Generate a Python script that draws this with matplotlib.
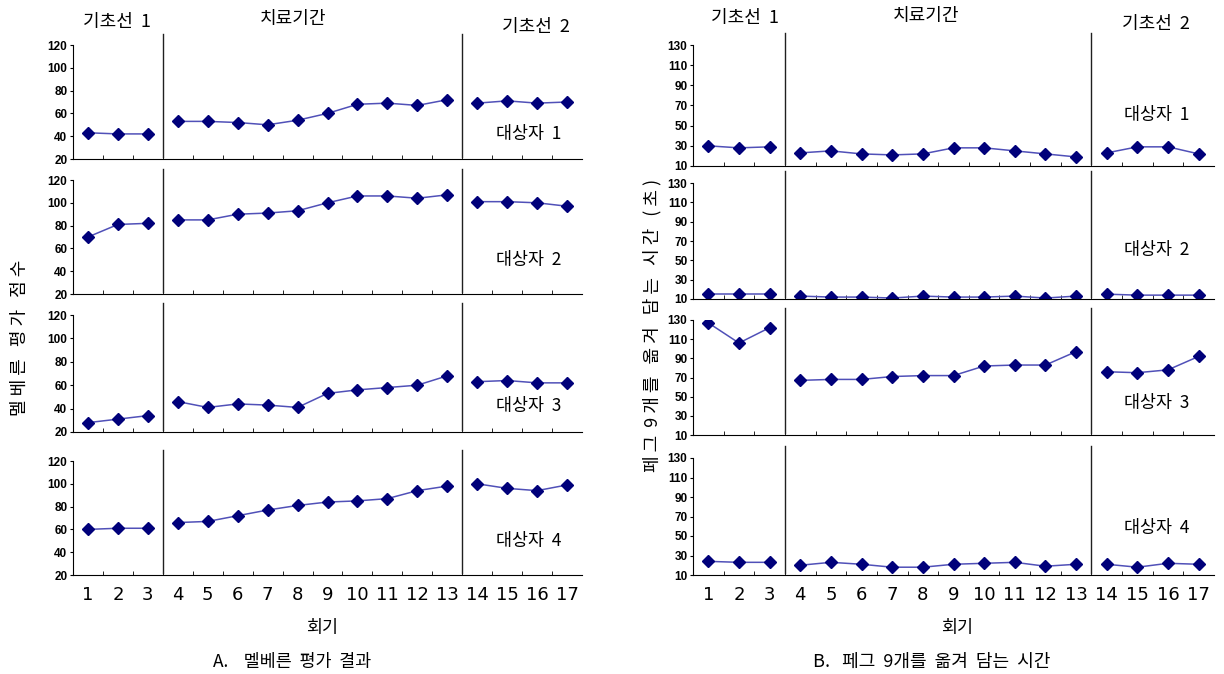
import numpy as np
import matplotlib
matplotlib.use('Agg')
import matplotlib.pyplot as plt
from matplotlib.transforms import blended_transform_factory

plt.rcParams['font.family'] = ['Noto Sans CJK KR', 'DejaVu Sans']

# 회기 1~17 (기초선1: 1-3, 치료기간: 4-13, 기초선2: 14-17)
sessions = list(range(1, 18))
phase_cut = [3.5, 13.5]

# A. 멜베른 평가 결과
mel_s1 = [43, 42, 42, 53, 53, 52, 50, 54, 60, 68, 69, 67, 72, 69, 71, 69, 70]
mel_s2 = [70, 81, 82, 85, 85, 90, 91, 93, 100, 106, 106, 104, 107, 101, 101, 100, 97]
mel_s3 = [28, 31, 34, 46, 41, 44, 43, 41, 53, 56, 58, 60, 68, 63, 64, 62, 62]
mel_s4 = [60, 61, 61, 66, 67, 72, 77, 81, 84, 85, 87, 94, 98, 100, 96, 94, 99]

# B. 페그 9개를 옮겨 담는 시간 (초)
peg_s1 = [30, 28, 29, 23, 25, 22, 21, 22, 28, 28, 25, 22, 19, 23, 29, 29, 22]
peg_s2 = [15, 15, 15, 13, 12, 12, 11, 13, 12, 12, 13, 11, 13, 15, 14, 14, 14]
peg_s3 = [127, 106, 122, 67, 68, 68, 71, 72, 72, 82, 83, 83, 97, 76, 75, 78, 92]
peg_s4 = [24, 23, 23, 20, 23, 21, 18, 18, 21, 22, 23, 19, 21, 21, 18, 22, 21]

mel_yticks = [20, 40, 60, 80, 100, 120]
peg_yticks = [10, 30, 50, 70, 90, 110, 130]
subjects = ['대상자  1', '대상자  2', '대상자  3', '대상자  4']

W, H = 1224, 674
fig = plt.figure(figsize=(W / 100, H / 100), dpi=100)

def px_axes(x0, x1, ytop, ybot):
    return fig.add_axes([x0 / W, 1 - ybot / H, (x1 - x0) / W, (ybot - ytop) / H])

line_c = '#5050b8'
mark_c = '#00007a'

def draw(ax, vals, yticks, bottom):
    x = np.array(sessions)
    v = np.array(vals)
    for lo, hi in [(0, 3), (3, 13), (13, 17)]:
        ax.plot(x[lo:hi], v[lo:hi], color=line_c, lw=1.1)
        ax.plot(x[lo:hi], v[lo:hi], ls='none', marker='D', ms=5.8,
                color=mark_c, mec=mark_c)
    ax.set_xlim(0.5, 17.5)
    ax.set_ylim(yticks[0], yticks[-1])
    ax.set_yticks(yticks)
    ax.set_yticklabels([str(t) for t in yticks], fontsize=8.5, fontweight='bold',
                       family=['Liberation Sans', 'DejaVu Sans'])
    ax.tick_params(axis='y', length=2, pad=2)
    ax.set_xticks(sessions)
    ax.set_xticks(np.arange(1.5, 17, 1), minor=True)
    ax.tick_params(axis='x', which='major', length=0, pad=8)
    ax.tick_params(axis='x', which='minor', direction='in', length=3)
    if bottom:
        ax.set_xticklabels([str(s) for s in sessions], fontsize=13,
                           family=['Liberation Sans Narrow', 'DejaVu Sans'])
    else:
        ax.set_xticklabels([])
    for s in ['top', 'right']:
        ax.spines[s].set_visible(False)
    ax.patch.set_alpha(0)
    tr = blended_transform_factory(ax.transData, ax.transAxes)
    for c in phase_cut:
        ax.plot([c, c], [0.02, 1.1], color='#202020', lw=1.0,
                transform=tr, clip_on=False)

left_rows = [(45, 159), (180, 294), (315, 432), (461, 575)]
right_rows = [(45, 166), (183, 299), (320, 435), (458, 575)]
mel_data = [mel_s1, mel_s2, mel_s3, mel_s4]
peg_data = [peg_s1, peg_s2, peg_s3, peg_s4]
mel_lab_y = [0.22, 0.3, 0.22, 0.3]
peg_lab_y = [0.42, 0.42, 0.28, 0.4]

for i in range(4):
    ax = px_axes(73, 582, *left_rows[i])
    draw(ax, mel_data[i], mel_yticks, i == 3)
    ax.text(0.895, mel_lab_y[i], subjects[i], transform=ax.transAxes,
            fontsize=12.5, ha='center', va='center')
    ax2 = px_axes(693, 1214, *right_rows[i])
    draw(ax2, peg_data[i], peg_yticks, i == 3)
    ax2.text(0.89, peg_lab_y[i], subjects[i], transform=ax2.transAxes,
             fontsize=12.5, ha='center', va='center')

def ftext(x, y, s, **kw):
    fig.text(x / W, 1 - y / H, s, ha='center', va='center', **kw)

# 구간 제목
ftext(117, 22, '기초선  1', fontsize=13)
ftext(293, 19, '치료기간', fontsize=13)
ftext(536, 27, '기초선  2', fontsize=13)
ftext(745, 18, '기초선  1', fontsize=13)
ftext(926, 16, '치료기간', fontsize=13)
ftext(1156, 24, '기초선  2', fontsize=13)

# 축 제목
ftext(20, 338, '멜 베 른   평 가   점 수', fontsize=13, rotation=90)
ftext(652, 325, '페 그  9 개 를   옮 겨   담 는   시 간   ( 초 )', fontsize=13, rotation=90)
ftext(322, 628, '회기', fontsize=12.5)
ftext(957, 628, '회기', fontsize=12.5)
ftext(292, 662, 'A.    멜베른  평가  결과', fontsize=12.5)
ftext(932, 662, 'B.   페그  9개를  옮겨  담는  시간', fontsize=13)

fig.savefig('out.png', dpi=100, facecolor='white')
